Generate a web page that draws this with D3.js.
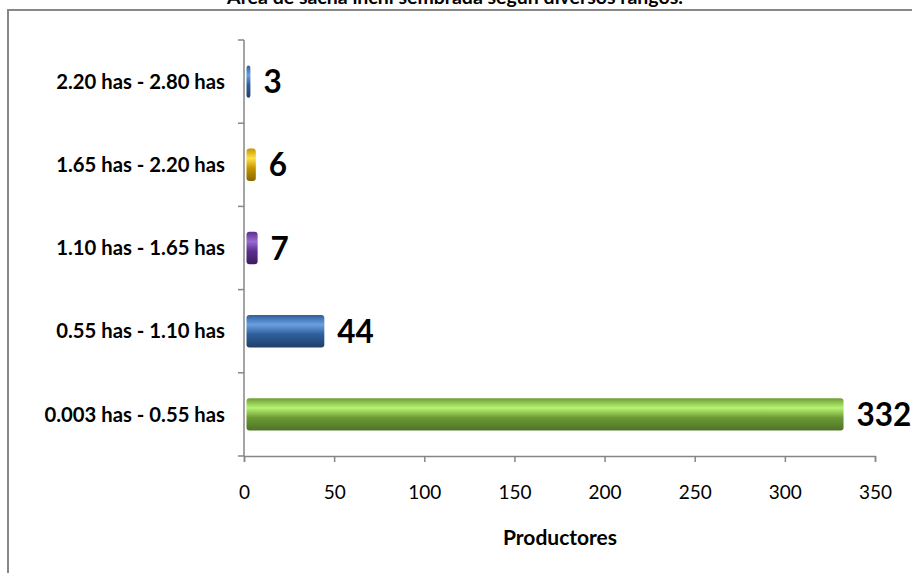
<!DOCTYPE html>
<html><head><meta charset="utf-8">
<script src="https://cdn.jsdelivr.net/npm/d3@7"></script>
<style>body{margin:0;background:#fff;} svg{display:block;font-family:Lato, "Open Sans", sans-serif;}</style>
</head><body>
<svg id="c" width="912" height="573"></svg>
<script>
const title = "Área de sacha inchi sembrada según diversos rangos.";
const categories = ["0.003 has - 0.55 has","0.55 has - 1.10 has","1.10 has - 1.65 has","1.65 has - 2.20 has","2.20 has - 2.80 has"];
const values = [332, 44, 7, 6, 3];
const xTicks = [0,50,100,150,200,250,300,350];
const xTitle = "Productores";
const palette = [
  ["#6e9a36","#b6f472","#4d7326"],
  ["#2f5f9a","#6a9fe0","#1f406a"],
  ["#5b2f8c","#9a6ad0","#3c1d60"],
  ["#c79600","#ffe14a","#8a6600"],
  ["#2f5f9a","#6a9fe0","#1f406a"]
];

const svg = d3.select("#c");
const defs = svg.append("defs");
palette.forEach((p,i)=>{
  const g = defs.append("linearGradient").attr("id","g"+i).attr("x1",0).attr("y1",0).attr("x2",0).attr("y2",1);
  g.append("stop").attr("offset","0%").attr("stop-color",p[0]);
  g.append("stop").attr("offset","30%").attr("stop-color",p[1]);
  g.append("stop").attr("offset","60%").attr("stop-color",p[0]);
  g.append("stop").attr("offset","100%").attr("stop-color",p[2]);
});

// frame
svg.append("rect").attr("x",8).attr("y",10).attr("width",960).attr("height",620)
  .attr("fill","none").attr("stroke","#888").attr("stroke-width",2);

svg.append("text").attr("x",455).attr("y",4).attr("text-anchor","middle")
  .attr("font-weight","bold").attr("font-size",19.5).attr("fill","#000").text(title);

const x = d3.scaleLinear().domain([0,350]).range([244,875]);
const y = d3.scaleBand().domain(categories).range([456,40]).paddingInner(0.61).paddingOuter(0.305);

// axes
const gx = svg.append("g").attr("transform","translate(0,456)")
  .call(d3.axisBottom(x).tickValues(xTicks).tickSize(6).tickSizeOuter(6).tickPadding(10));
gx.selectAll("path,line").attr("stroke","#868686").attr("stroke-width",1.5);
gx.selectAll("text").attr("font-size",19).attr("fill","#000").attr("font-family","Lato, sans-serif")
  .attr("y",43).attr("dy",0);

const yEdges = d3.range(categories.length+1).map(i=>456 - i*(416/categories.length));
const gy = svg.append("g");
gy.append("line").attr("x1",244).attr("x2",244).attr("y1",40).attr("y2",456).attr("stroke","#868686").attr("stroke-width",1.5);
gy.selectAll("line.t").data(yEdges).join("line").attr("class","t")
  .attr("x1",238).attr("x2",244).attr("y1",d=>d).attr("y2",d=>d).attr("stroke","#868686").attr("stroke-width",1.5);
gy.selectAll("text").data(categories).join("text")
  .attr("x",225).attr("y",d=>y(d)+y.bandwidth()/2).attr("dy","0.35em")
  .attr("text-anchor","end").attr("font-weight","bold").attr("font-size",20.3).attr("fill","#000")
  .text(d=>d);

// bars
svg.selectAll("rect.bar").data(values).join("rect").attr("class","bar")
  .attr("x",x(0)+2.5).attr("y",(d,i)=>y(categories[i]))
  .attr("width",d=>x(d)-x(0)-1.5).attr("height",y.bandwidth())
  .attr("rx",3).attr("fill",(d,i)=>`url(#g${i})`);

svg.selectAll("text.lbl").data(values).join("text").attr("class","lbl")
  .attr("x",d=>x(d)+14).attr("y",(d,i)=>y(categories[i])+y.bandwidth()/2).attr("dy","0.37em")
  .attr("font-weight","bold").attr("font-size",31.5).attr("fill","#000").text(d=>d);

svg.append("text").attr("x",560).attr("y",545).attr("text-anchor","middle")
  .attr("font-weight","bold").attr("font-size",21).attr("fill","#000").text(xTitle);
</script>
</body></html>
